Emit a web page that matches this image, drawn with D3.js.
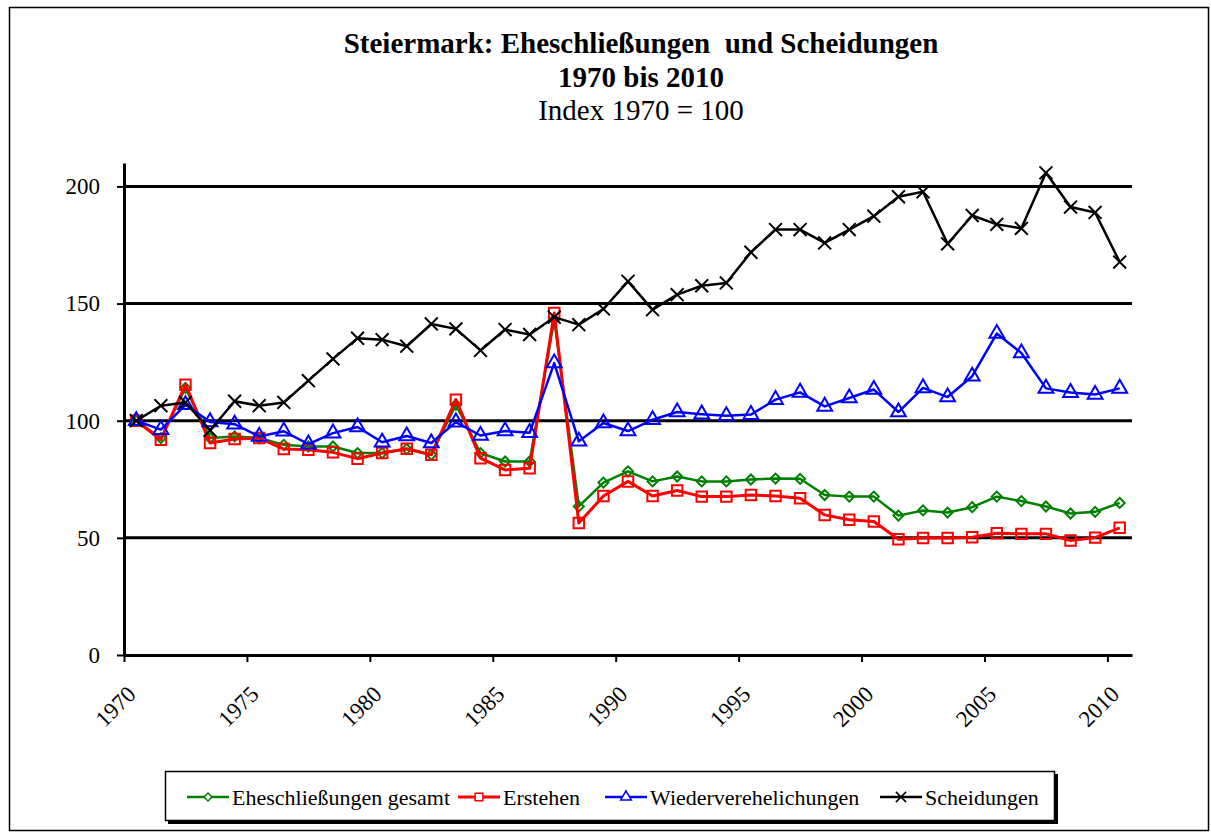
<!DOCTYPE html>
<html>
<head>
<meta charset="utf-8">
<script src="https://cdnjs.cloudflare.com/ajax/libs/d3/7.8.5/d3.min.js"></script>
<style>
  body { margin: 0; background: #fff; }
  svg { display: block; font-family: "Liberation Serif", "Times New Roman", serif; }
</style>
</head>
<body>
<svg id="chart"></svg>
<script>
var years = [1970, 1971, 1972, 1973, 1974, 1975, 1976, 1977, 1978, 1979,
  1980, 1981, 1982, 1983, 1984, 1985, 1986, 1987, 1988, 1989,
  1990, 1991, 1992, 1993, 1994, 1995, 1996, 1997, 1998, 1999,
  2000, 2001, 2002, 2003, 2004, 2005, 2006, 2007, 2008, 2009, 2010];

var gesamt = [100, 92.6, 114, 92.6, 93.3, 92.6, 89.7, 89.0, 89.0, 86.2,
  86.2, 87.9, 85.5, 106.8, 86.2, 82.6, 82.6, 143.2, 63.4, 73.6,
  78.4, 74.1, 76.2, 74.1, 74.1, 74.9, 75.3, 75.2, 68.3, 67.6,
  67.6, 59.5, 61.7, 60.8, 63.1, 67.6, 65.7, 63.4, 60.4, 61.1, 64.9];

var erstehen = [100, 91.9, 115.4, 90.5, 92.2, 92.6, 87.9, 87.6, 86.5, 83.8,
  86.2, 88.0, 85.5, 109.0, 84.0, 79.0, 79.7, 146.0, 56.3, 67.9,
  74.1, 67.9, 70.2, 67.6, 67.6, 68.3, 67.9, 66.9, 59.8, 57.7,
  57.0, 49.4, 49.9, 49.9, 50.3, 52.0, 51.7, 51.7, 48.9, 50.1, 54.3];

var wieder = [100, 96.2, 106.8, 99.5, 98.5, 93.3, 95.5, 90.0, 94.7, 97.3,
  90.8, 93.5, 90.5, 99.4, 93.7, 95.6, 94.9, 124.6, 91.2, 99.0,
  95.6, 100.4, 103.7, 102.8, 102.1, 102.6, 109.0, 112.1, 106.1, 109.7,
  113.3, 103.7, 114.0, 110.1, 119.0, 137.2, 128.9, 113.8, 112.0, 111.2, 113.8];

var scheidungen = [100, 106.4, 107.8, 95.9, 108.3, 106.4, 107.8, 117.1, 126.4, 135.2,
  134.6, 131.8, 141.3, 139.2, 130.0, 138.9, 136.8, 144.2, 141.0, 147.7,
  159.5, 147.4, 153.8, 157.6, 158.8, 171.9, 181.6, 181.6, 175.9, 181.6,
  187.3, 195.6, 197.7, 175.5, 187.6, 183.8, 182.1, 205.8, 191.2, 188.9, 167.7];

var seriesNames = ["Eheschließungen gesamt", "Erstehen", "Wiederverehelichungen", "Scheidungen"];
var xTicks = [1970, 1975, 1980, 1985, 1990, 1995, 2000, 2005, 2010];
var yTicks = [0, 50, 100, 150, 200];

var W = 1211, H = 832;
var plot = { left: 124, right: 1132, top: 163, bottom: 655 };

var svg = d3.select("#chart").attr("width", W).attr("height", H);

// outer frame
svg.append("rect")
  .attr("x", 9.5).attr("y", 7.5)
  .attr("width", 1199).attr("height", 823)
  .attr("fill", "#fff").attr("stroke", "#000").attr("stroke-width", 1.5);

var x = d3.scaleLinear().domain([1970, 2011]).range([plot.left, plot.right]);
var y = d3.scaleLinear().domain([0, 210]).range([plot.bottom, plot.top]);

// title
var title = svg.append("g").attr("text-anchor", "middle").attr("font-size", 29);
title.append("text").attr("x", 641).attr("y", 53).attr("font-weight", "bold")
  .style("white-space", "pre").text("Steiermark: Eheschließungen  und Scheidungen");
title.append("text").attr("x", 641).attr("y", 87).attr("font-weight", "bold").text("1970 bis 2010");
title.append("text").attr("x", 641).attr("y", 120).text("Index 1970 = 100");

// gridlines
svg.append("g").selectAll("line")
  .data(yTicks.filter(function(d) { return d > 0; }))
  .enter().append("line")
  .attr("x1", plot.left).attr("x2", plot.right)
  .attr("y1", function(d) { return y(d); })
  .attr("y2", function(d) { return y(d); })
  .attr("stroke", "#000").attr("stroke-width", 3);

// y axis
var yAxis = svg.append("g")
  .attr("transform", "translate(" + plot.left + ",0)")
  .call(d3.axisLeft(y).tickValues(yTicks).tickSize(7).tickSizeOuter(0).tickPadding(17));
yAxis.select(".domain").attr("stroke-width", 3);
yAxis.selectAll(".tick line").attr("stroke-width", 2);
yAxis.selectAll("text").attr("font-size", 23).attr("font-family", "Liberation Serif").attr("fill", "#000");

// x axis
var xAxis = svg.append("g")
  .attr("transform", "translate(0," + plot.bottom + ")")
  .call(d3.axisBottom(x).tickValues(xTicks).tickSize(7).tickSizeOuter(0).tickFormat(d3.format("d")));
xAxis.select(".domain").attr("stroke-width", 3);
xAxis.selectAll(".tick line").attr("stroke-width", 2);
xAxis.selectAll("text")
  .attr("font-size", 23).attr("font-family", "Liberation Serif").attr("fill", "#000")
  .attr("x", 0).attr("y", 0).attr("dy", "0.35em")
  .attr("text-anchor", "end")
  .attr("transform", "translate(7,35) rotate(-45)");

// series
var series = [
  { name: seriesNames[0], values: gesamt, color: "#008000", width: 2.5, symbol: d3.symbolSquare, size: 50, legendSize: 32, rotate: 45 },
  { name: seriesNames[1], values: erstehen, color: "#ff0000", width: 3, symbol: d3.symbolSquare, size: 110, legendSize: 60, rotate: 0 },
  { name: seriesNames[2], values: wieder, color: "#0000ff", width: 2.5, symbol: d3.symbolTriangle, size: 95, legendSize: 50, rotate: 0 },
  { name: seriesNames[3], values: scheidungen, color: "#000000", width: 2.5, symbol: d3.symbolX, size: 110, legendSize: 70, rotate: 0 }
];

var line = d3.line()
  .x(function(d) { return x(d.year + 0.5); })
  .y(function(d) { return y(d.value); });

series.forEach(function(s) {
  var pts = years.map(function(yr, i) { return { year: yr, value: s.values[i] }; });
  var g = svg.append("g");
  g.append("path").datum(pts)
    .attr("d", line)
    .attr("fill", "none")
    .attr("stroke", s.color)
    .attr("stroke-width", s.width)
    .attr("stroke-linejoin", "round");
  g.selectAll("path.marker").data(pts).enter().append("path")
    .attr("class", "marker")
    .attr("d", d3.symbol().type(s.symbol).size(s.size))
    .attr("transform", function(d) {
      return "translate(" + x(d.year + 0.5) + "," + y(d.value) + ") rotate(" + s.rotate + ")";
    })
    .attr("fill", "none")
    .attr("stroke", s.color)
    .attr("stroke-width", 2);
});

// legend
var legend = svg.append("g");
legend.append("rect")
  .attr("x", 168).attr("y", 774).attr("width", 890).attr("height", 50)
  .attr("fill", "#000");
legend.append("rect")
  .attr("x", 165.5).attr("y", 771.5).attr("width", 889).attr("height", 49)
  .attr("fill", "#fff").attr("stroke", "#000").attr("stroke-width", 1.5);

var legendX = [187, 458, 605, 880];
series.forEach(function(s, i) {
  var lg = legend.append("g").attr("transform", "translate(" + legendX[i] + ",797)");
  lg.append("line").attr("x1", 0).attr("x2", 42).attr("y1", 0).attr("y2", 0)
    .attr("stroke", s.color).attr("stroke-width", s.width);
  lg.append("path")
    .attr("d", d3.symbol().type(s.symbol).size(s.legendSize))
    .attr("transform", "translate(21,0) rotate(" + s.rotate + ")")
    .attr("fill", "#fff").attr("stroke", s.color).attr("stroke-width", 1.5);
  lg.append("text").attr("x", 45).attr("y", 0).attr("dy", "0.35em")
    .attr("font-size", 22).text(s.name);
});
</script>
</body>
</html>
